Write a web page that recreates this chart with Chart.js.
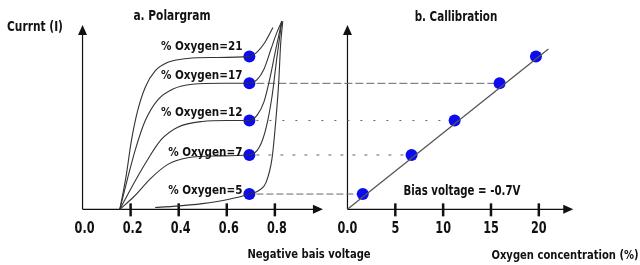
<!DOCTYPE html>
<html>
<head>
<meta charset="utf-8">
<script src="https://cdn.jsdelivr.net/npm/chart.js@4.4.1/dist/chart.umd.min.js"></script>
<style>
  html, body { margin: 0; padding: 0; background: #fff; }
</style>
</head>
<body>
<canvas id="chart" width="640" height="265"></canvas>
<script>
// oxygen levels (%) and the plateau current each one gives (arbitrary units)
const oxygen = [5, 7, 12, 17, 21];
const plateau = [0.83, 2.95, 4.82, 6.84, 8.29];
const biasVoltage = 0.694;                    // where the dots sit on the polarogram
const calibConc = [1.6, 6.7, 11.2, 15.9, 19.7]; // dots on the calibration line
const calibLine = [[0, 0], [21, 8.7]];

const voltTicks = [0, 0.2, 0.4, 0.6, 0.8];
const voltLabels = ['0.0', '0.2', '0.4', '0.6', '0.8'];
const concTicks = [0, 5, 10, 15, 20];
const concLabels = ['0.0', '5', '10', '15', '20'];

// polarogram curves, [negative bias voltage, current]
const curve21 = [[0.155,0],[0.180,1.71],[0.204,3.78],[0.229,5.34],[0.261,6.63],[0.302,7.51],[0.355,7.98],[0.437,8.19],[0.539,8.24],[0.694,8.29],[0.727,8.55],[0.759,9.07],[0.792,9.87]];
const curve17 = [[0.155,0],[0.188,1.71],[0.220,3.26],[0.261,4.82],[0.314,5.96],[0.376,6.53],[0.457,6.79],[0.580,6.84],[0.694,6.84],[0.727,7.05],[0.755,7.62],[0.784,8.70],[0.808,9.59],[0.829,10.21]];
const curve12 = [[0.155,0],[0.204,1.19],[0.261,2.49],[0.327,3.78],[0.396,4.46],[0.498,4.77],[0.600,4.82],[0.694,4.82],[0.727,5.13],[0.755,5.85],[0.780,7.15],[0.804,8.70],[0.829,10.21]];
const curve7 = [[0.155,0],[0.212,0.67],[0.286,1.71],[0.355,2.44],[0.437,2.80],[0.559,2.90],[0.694,2.95],[0.735,3.37],[0.763,4.40],[0.788,6.11],[0.808,8.19],[0.829,10.21]];
const curve5 = [[0.302,0.10],[0.376,0.16],[0.498,0.31],[0.600,0.52],[0.694,0.83],[0.735,1.04],[0.763,1.45],[0.788,2.75],[0.804,4.82],[0.816,6.89],[0.824,8.96],[0.833,10.21]];

const INK = '#111';
const DOT = 'rgb(12,12,238)';
const dashes = [[7, 3], [3, 9], [2, 11], [8, 3], null];
const labelLift = [3, 2, 8, 8, 10];   // px the oxygen labels sit above their dot

const toPts = arr => arr.map(p => ({ x: p[0], y: p[1] }));

function curveSet(pts) {
    return {
        type: 'line', data: toPts(pts), xAxisID: 'x', yAxisID: 'y',
        borderColor: '#333', borderWidth: 1.1, pointRadius: 0,
        cubicInterpolationMode: 'monotone', fill: false
    };
}

function squeeze(ctx, text, x, y, font, sx, align) {
    ctx.save();
    ctx.font = font;
    ctx.fillStyle = INK;
    ctx.translate(x, y);
    ctx.scale(sx, 1);
    ctx.textAlign = align || 'center';
    ctx.textBaseline = 'middle';
    ctx.fillText(text, 0, 0);
    ctx.restore();
}

function arrow(ctx, x, y, dir) {
    ctx.beginPath();
    if (dir === 'up') {
        ctx.moveTo(x, y); ctx.lineTo(x - 4.5, y + 10); ctx.lineTo(x + 4.5, y + 10);
    } else {
        ctx.moveTo(x, y); ctx.lineTo(x - 10, y - 4.5); ctx.lineTo(x - 10, y + 4.5);
    }
    ctx.closePath();
    ctx.fill();
}

const sketch = {
    id: 'sketch',
    beforeDatasetsDraw(chart) {
        const ctx = chart.ctx;
        const { x, x2, y } = chart.scales;
        const y0 = y.getPixelForValue(0);
        const yTop = y.getPixelForValue(10);
        ctx.save();
        ctx.strokeStyle = INK;
        ctx.fillStyle = INK;

        // two pairs of axes
        [[x, 1.0, voltTicks], [x2, 23.6, concTicks]].forEach(([sc, end, ticks]) => {
            const xo = sc.getPixelForValue(0);
            const xe = sc.getPixelForValue(end);
            ctx.lineWidth = 1.2;
            ctx.beginPath();
            ctx.moveTo(xo, y0); ctx.lineTo(xe - 8, y0);
            ctx.moveTo(xo, y0); ctx.lineTo(xo, yTop + 8);
            ctx.stroke();
            arrow(ctx, xe, y0, 'right');
            arrow(ctx, xo, yTop, 'up');
            ctx.lineWidth = 2.5;
            ticks.slice(1).forEach(t => {
                const px = sc.getPixelForValue(t);
                ctx.beginPath();
                ctx.moveTo(px, y0 - 6); ctx.lineTo(px, y0 + 7);
                ctx.stroke();
            });
        });

        // dashed guides from the polarogram dots to the calibration dots
        ctx.strokeStyle = '#666';
        ctx.lineWidth = 1;
        plateau.forEach((c, i) => {
            if (!dashes[i]) return;
            const py = y.getPixelForValue(c);
            ctx.setLineDash(dashes[i]);
            ctx.beginPath();
            ctx.moveTo(x.getPixelForValue(biasVoltage) + 7, py);
            ctx.lineTo(x2.getPixelForValue(calibConc[i]), py);
            ctx.stroke();
        });
        ctx.setLineDash([]);
        ctx.restore();
    },
    afterDatasetsDraw(chart) {
        const ctx = chart.ctx;
        const { x, x2, y } = chart.scales;
        const yLab = y.getPixelForValue(0) + 20;
        const tickFont = 'bold 15px "DejaVu Sans"';
        voltTicks.forEach((t, i) => squeeze(ctx, voltLabels[i], x.getPixelForValue(t) + 2, yLab, tickFont, 0.75));
        concTicks.forEach((t, i) => squeeze(ctx, concLabels[i], x2.getPixelForValue(t), yLab, tickFont, 0.75));

        const lblFont = 'bold 13px "DejaVu Sans"';
        oxygen.forEach((o, i) => {
            squeeze(ctx, '% Oxygen=' + o, x.getPixelForValue(biasVoltage) - 7,
                y.getPixelForValue(plateau[i]) - labelLift[i], lblFont, 0.8, 'right');
        });

        squeeze(ctx, 'Currnt (I)', 35, 27, 'bold 14px "DejaVu Sans"', 0.76);
        squeeze(ctx, 'a. Polargram', 172, 16, 'bold 14px "DejaVu Sans"', 0.76);
        squeeze(ctx, 'b. Callibration', 456, 17, 'bold 14px "DejaVu Sans"', 0.74);
        squeeze(ctx, 'Bias voltage = -0.7V', 462, 191, 'bold 14px "DejaVu Sans"', 0.73);
        squeeze(ctx, 'Negative bais voltage', 309, 255, 'bold 13px "DejaVu Sans"', 0.77);
        squeeze(ctx, 'Oxygen concentration (%)', 565, 256, 'bold 13px "DejaVu Sans"', 0.77);
    }
};

new Chart(document.getElementById('chart'), {
    type: 'scatter',
    data: {
        datasets: [
            curveSet(curve21), curveSet(curve17), curveSet(curve12), curveSet(curve7), curveSet(curve5),
            {
                type: 'line', data: toPts(calibLine), xAxisID: 'x2', yAxisID: 'y',
                borderColor: '#555', borderWidth: 1.3, pointRadius: 0, fill: false
            },
            {
                data: plateau.map(c => ({ x: biasVoltage, y: c })), xAxisID: 'x', yAxisID: 'y',
                backgroundColor: DOT, borderWidth: 0, pointRadius: 6
            },
            {
                data: plateau.map((c, i) => ({ x: calibConc[i], y: c })), xAxisID: 'x2', yAxisID: 'y',
                backgroundColor: DOT, borderWidth: 0, pointRadius: 6
            }
        ]
    },
    options: {
        responsive: false,
        animation: false,
        layout: { padding: 0 },
        plugins: { legend: { display: false }, tooltip: { enabled: false } },
        scales: {
            // left panel: 0.0 V sits at 78px, 0.2 V every 49px
            x: { type: 'linear', display: false, bounds: 'data', min: -78 / 245, max: (640 - 78) / 245 },
            // right panel: 0 % at 348px, 5 % every 48.75px
            x2: { type: 'linear', display: false, bounds: 'data', min: -348 / 9.75, max: (640 - 348) / 9.75 },
            y: { type: 'linear', display: false, bounds: 'data', min: (213 - 265) / 19.3, max: 213 / 19.3 }
        }
    },
    plugins: [sketch]
});
</script>
</body>
</html>
